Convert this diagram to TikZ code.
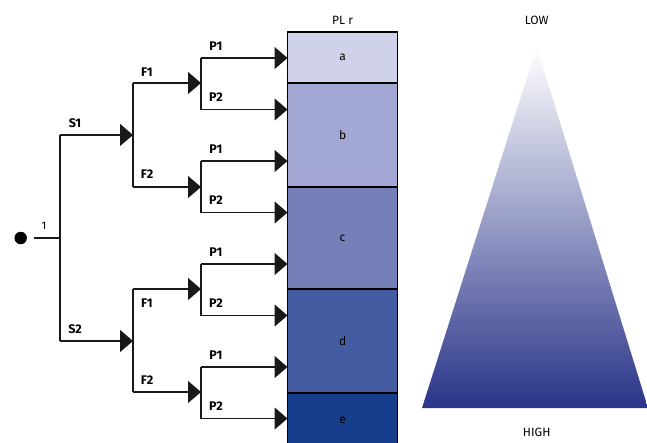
\documentclass[tikz,border=0pt]{standalone}
\usepackage{fontspec}
\setmainfont{Fira Sans}
\usetikzlibrary{arrows.meta}
\definecolor{ca}{RGB}{208,210,234}
\definecolor{cb}{RGB}{163,167,211}
\definecolor{cc}{RGB}{117,128,185}
\definecolor{cd}{RGB}{70,92,162}
\definecolor{ce}{RGB}{22,62,140}
\definecolor{tri}{RGB}{42,52,137}
\begin{document}
\begin{tikzpicture}[x=1pt,y=-1pt,
  ln/.style={line width=1.4pt, draw=black!90},
  arr/.style={ln, -{Triangle[length=13pt,width=22pt]}},
  lbl/.style={font=\fontsize{12.5}{13}\selectfont\bfseries, inner sep=0pt},
  txt/.style={font=\fontsize{12}{13}\selectfont, inner sep=0pt},
  cell/.style={draw=black, line width=1.4pt, minimum width=110pt, inner sep=0pt, anchor=center, font=\fontsize{12}{13}\selectfont}]
\useasboundingbox (0,0) rectangle (647,442);
% cells
\node[cell, fill=ca, minimum height=51pt] (a) at (342.6,57.5) {a};
\node[cell, fill=cb, minimum height=104pt] (b) at (342.6,135) {b};
\node[cell, fill=cc, minimum height=102pt] (c) at (342.6,238) {c};
\node[cell, fill=cd, minimum height=104pt] (d) at (342.6,341) {d};
\node[cell, fill=ce, minimum height=54pt] (e) at (342.6,420) {e};
\node[txt] (plr) at (342.6,20) {PL r};
% root
\node[circle, fill=black, minimum size=12.5pt, inner sep=0pt] (root) at (20.7,238) {};
\coordinate (r0) at (34,238);
\coordinate (j0) at (60,238);
\coordinate (s1) at (60,135);  \coordinate (s1e) at (133,135);
\coordinate (s2) at (60,341);  \coordinate (s2e) at (133,341);
\coordinate (f11) at (133,83);  \coordinate (f11e) at (201,83);
\coordinate (f12) at (133,187); \coordinate (f12e) at (201,187);
\coordinate (f21) at (133,289); \coordinate (f21e) at (201,289);
\coordinate (f22) at (133,392); \coordinate (f22e) at (201,392);
\foreach \i/\y in {1/58,2/109.5,3/161,4/212.5,5/264,6/315.5,7/367,8/418.5}{
  \coordinate (p\i) at (201,\y);
  \coordinate (t\i) at (287.5,\y);
}
\draw[ln] (r0) -- (j0);
\node[txt, font=\fontsize{11}{12}\selectfont] (one) at (44,226) {1};
\draw[ln] (s1) -- (s2);
\draw[arr] (s1) -- (s1e);
\draw[arr] (s2) -- (s2e);
\draw[ln] (f11) -- (f12);
\draw[ln] (f21) -- (f22);
\draw[arr] (f11) -- (f11e);
\draw[arr] (f12) -- (f12e);
\draw[arr] (f21) -- (f21e);
\draw[arr] (f22) -- (f22e);
\draw[ln] (p1) -- (p2);
\draw[ln] (p3) -- (p4);
\draw[ln] (p5) -- (p6);
\draw[ln] (p7) -- (p8);
\foreach \i in {1,...,8}{ \draw[arr] (p\i) -- (t\i); }
% labels
\node[lbl] (ls1) at (75,123) {S1};
\node[lbl] (ls2) at (75,329) {S2};
\node[lbl] (lf11) at (147,72) {F1};
\node[lbl] (lf12) at (147,174) {F2};
\node[lbl] (lf21) at (147,303) {F1};
\node[lbl] (lf22) at (147,380) {F2};
\foreach \i/\y/\t in {1/46/P1,2/97/P2,3/149/P1,4/200/P2,5/252/P1,6/303/P2,7/355/P1,8/406/P2}{
  \node[lbl] (lp\i) at (216,\y) {\t};
}
% triangle
\shade[top color=white, bottom color=tri] (536.7,47) -- (422,408) -- (648,408) -- cycle;
\node[txt] (low) at (536.7,20) {LOW};
\node[txt] (high) at (536.7,432) {HIGH};
\end{tikzpicture}
\end{document}
